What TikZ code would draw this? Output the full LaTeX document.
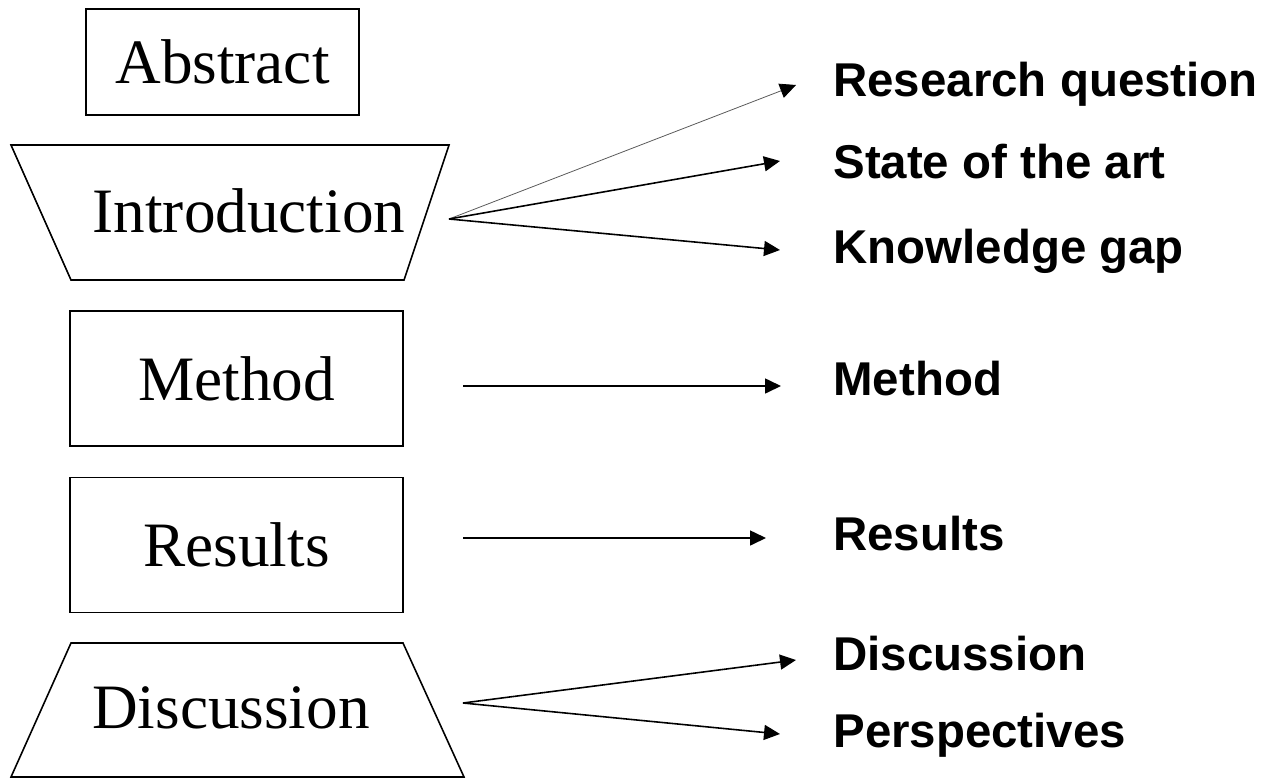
\documentclass[tikz,border=0pt]{standalone}
\usepackage{fontspec}
\setmainfont{Liberation Serif}
\newfontfamily\sansbold{Liberation Sans}
\usetikzlibrary{arrows.meta}
\newcommand{\sectionfont}{\fontsize{36}{40}\selectfont}
\newcommand{\partfont}{\sansbold\bfseries\fontsize{27}{31}\selectfont}
\newcommand{\widthbox}{6.66cm}
\newcommand{\heightbox}{2.7cm}
\tikzset{
    common/.style={draw, line width=0.9pt, rectangle, inner sep=0pt, font=\sectionfont},
    box/.style={common, minimum width=\widthbox, minimum height=\heightbox},
    title/.style={inner sep=0pt, font=\sectionfont},
    outline/.style={line width=0.9pt, line join=miter},
    part/.style={anchor=base west, inner sep=0pt, font=\partfont},
    link/.style={line width=0.9pt, -{Triangle[length=0.32cm, width=0.3cm]}},
    faint/.style={link, line width=0.45pt, draw=black!65, -{Triangle[length=0.32cm, width=0.3cm, black]}}
}

\begin{document}
\begin{tikzpicture}[x=0.02cm, y=-0.02cm]
    \useasboundingbox (0,0) rectangle (1266,781);

    % sections of the paper
    \node[common, minimum width=5.46cm, minimum height=2.12cm] (abstract) at (222.5,62) {Abstract};
    \draw[outline] (11,145) -- (449,145) -- (404,280) -- (71,280) -- cycle;
    \node[title] (intro) at (249,211) {Introduction};
    \node[box] (method) at (236.5,378.5) {Method};
    \node[box] (results) at (236.5,545) {Results};
    \draw[outline] (71,643) -- (403,643) -- (464,777) -- (11,777) -- cycle;
    \node[title] (discussion) at (231,708) {Discussion};

    % what each section holds
    \node[part] (question) at (833,96) {Research question};
    \node[part] (art) at (833,178) {State of the art};
    \node[part] (gap) at (833,263) {Knowledge gap};
    \node[part] (method-part) at (833,395) {Method};
    \node[part] (results-part) at (833,550) {Results};
    \node[part] (discussion-part) at (833,670) {Discussion};
    \node[part] (perspectives) at (833,747) {Perspectives};

    \coordinate (intro-out) at (449,219);
    \coordinate (method-out) at (463,386);
    \coordinate (results-out) at (463,538);
    \coordinate (discussion-out) at (463,703);

    \coordinate (question-in) at (796,85);
    \coordinate (art-in) at (780,161);
    \coordinate (gap-in) at (780,250);
    \coordinate (method-in) at (781,386);
    \coordinate (results-in) at (766,538);
    \coordinate (discussion-in) at (796,660);
    \coordinate (perspectives-in) at (780,734);

    \draw[faint] (intro-out) -- (question-in);
    \path
      (intro-out) edge[link] (art-in)
      (intro-out) edge[link] (gap-in)
      (method-out) edge[link] (method-in)
      (results-out) edge[link] (results-in)
      (discussion-out) edge[link] (discussion-in)
      (discussion-out) edge[link] (perspectives-in);

\end{tikzpicture}
\end{document}
